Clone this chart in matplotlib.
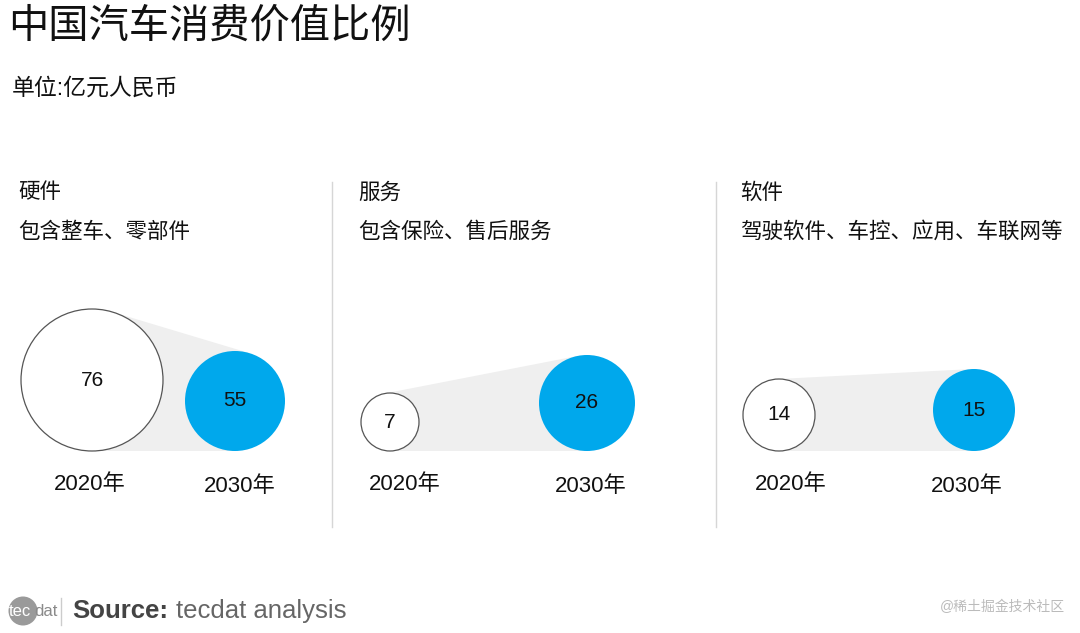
import numpy as np
import matplotlib.pyplot as plt
from matplotlib.patches import Circle, Polygon

plt.rcParams['font.family'] = ['Liberation Sans', 'Noto Sans CJK SC', 'DejaVu Sans']

# data
title = "中国汽车消费价值比例"
unit = "单位:亿元人民币"
segments = ["硬件", "服务", "软件"]
descriptions = ["包含整车、零部件", "包含保险、售后服务", "驾驶软件、车控、应用、车联网等"]
years = ["2020年", "2030年"]
values_2020 = [76, 7, 14]
values_2030 = [55, 26, 15]

# layout (pixels)
W, H = 1080, 633
panel_x = [18, 358, 740]
radius_2020 = [71, 29, 36]
radius_2030 = [50, 48, 41]
right_edge = [285, 635, 1015]
label_shift_2020 = [-2, 15, 12]
label_shift_2030 = [5, 4, -7]
base_y = 451
dividers = [332, 716]
blue = "#00A8EC"
hull_gray = "#EFEFEF"

fig = plt.figure(figsize=(W / 100, H / 100), dpi=100)
ax = fig.add_axes([0, 0, 1, 1])
ax.set_xlim(0, W)
ax.set_ylim(H, 0)
ax.set_aspect("equal")
ax.axis("off")


def hull(c1, r1, c2, r2):
    c1 = np.array(c1, float)
    c2 = np.array(c2, float)
    v = c2 - c1
    d = np.hypot(*v)
    u = v / d
    perp = np.array([-u[1], u[0]])
    cos_t = (r2 - r1) / d
    sin_t = np.sqrt(1 - cos_t ** 2)
    pts = []
    for s in (1, -1):
        n = cos_t * u + s * sin_t * perp
        pts.append((c1 - r1 * n, c2 - r2 * n))
    return [pts[0][0], pts[0][1], pts[1][1], pts[1][0]]


ax.text(8, 27, title, fontsize=29, va="center", ha="left", color="#111111")
ax.text(12, 88, unit, fontsize=16.5, va="center", ha="left", color="#111111")

for i in range(3):
    px = panel_x[i]
    r1, r2 = radius_2020[i], radius_2030[i]
    c1 = (px + 3 + r1, base_y - r1)
    c2 = (right_edge[i] - r2, base_y - r2)

    ax.text(px, 193, segments[i], fontsize=15.5, va="center", ha="left", color="#111111")
    ax.text(px, 232, descriptions[i], fontsize=15.5, va="center", ha="left", color="#111111")

    ax.add_patch(Polygon(hull(c1, r1, c2, r2), closed=True, facecolor=hull_gray,
                         edgecolor="none", zorder=1))
    ax.add_patch(Circle(c1, r1, facecolor="white", edgecolor="#555555", lw=0.9, zorder=2))
    ax.add_patch(Circle(c2, r2, facecolor=blue, edgecolor="none", zorder=2))
    ax.text(c1[0], c1[1], str(values_2020[i]), fontsize=15, ha="center", va="center",
            color="#111111", zorder=3)
    ax.text(c2[0], c2[1], str(values_2030[i]), fontsize=15, ha="center", va="center",
            color="#111111", zorder=3)

    ax.text(c1[0] + label_shift_2020[i], 484, years[0], fontsize=16, ha="center",
            va="center", color="#111111")
    ax.text(c2[0] + label_shift_2030[i], 486, years[1], fontsize=16, ha="center",
            va="center", color="#111111")

for dx in dividers:
    ax.plot([dx, dx], [182, 527], color="#D6D6D6", lw=1)

# footer
ax.add_patch(Circle((23, 611), 14.5, facecolor="#9A9A9A", edgecolor="none"))
ax.text(9, 612, "tec", fontsize=12, color="white", ha="left", va="center")
ax.text(34, 612, "dat", fontsize=12, color="#8A8A8A", ha="left", va="center")
ax.plot([61, 61], [598, 625], color="#CCCCCC", lw=1)
src = ax.text(72, 611, "Source:", fontsize=18.5, fontweight="bold", color="#444444",
              ha="left", va="center")
fig.canvas.draw()
bb = src.get_window_extent()
x_end = ax.transData.inverted().transform((bb.x1, bb.y0))[0]
ax.text(x_end + 8, 611, "tecdat analysis", fontsize=18.5, color="#666666",
        ha="left", va="center")
ax.text(1065, 607, "@稀土掘金技术社区", fontsize=10, color="#BBBBBB", ha="right", va="center")

fig.savefig("out.png", dpi=100, facecolor="white")
